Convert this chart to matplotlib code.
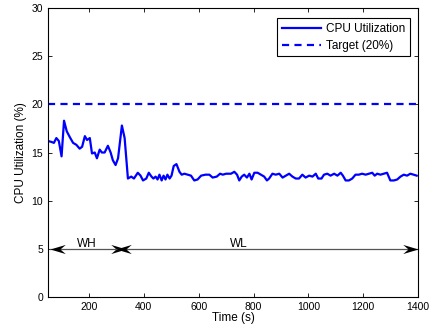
import matplotlib
matplotlib.use("Agg")
import matplotlib.pyplot as plt
from matplotlib.path import Path

plt.rcParams['font.family'] = ['Liberation Sans', 'DejaVu Sans']

# CPU utilization trace (time in s, utilization in %)
time_s = [50, 63, 72, 81, 90, 100, 109, 119, 130, 142, 154, 166, 175, 185, 193,
          203, 211, 221, 229, 239, 247, 257, 269, 279, 287, 297, 306, 320, 330,
          342, 354, 364, 378, 388, 397, 409, 418, 428, 435, 443, 450, 457, 465,
          472, 479, 486, 494, 501, 509, 519, 530, 538, 548, 560, 572, 584, 596,
          609, 625, 639, 651, 666, 678, 688, 700, 718, 730, 740, 748, 757, 766,
          776, 785, 793, 803, 815, 827, 839, 849, 857, 869, 881, 894, 906, 918,
          930, 942, 954, 966, 978, 990, 1003, 1015, 1027, 1036, 1048, 1057, 1069,
          1081, 1094, 1106, 1118, 1126, 1136, 1148, 1160, 1172, 1184, 1196, 1209,
          1221, 1233, 1242, 1251, 1263, 1275, 1287, 1299, 1312, 1324, 1336, 1348,
          1360, 1372, 1384, 1395]
cpu = [16.2, 16.1, 16.0, 16.5, 16.2, 14.6, 18.3, 17.2, 16.6, 16.0, 15.8, 15.4,
       15.6, 16.7, 16.3, 16.5, 14.9, 15.0, 14.4, 15.3, 15.0, 15.0, 15.7, 15.0,
       14.2, 13.7, 14.4, 17.8, 16.5, 12.3, 12.5, 12.3, 12.9, 12.6, 12.1, 12.3,
       12.9, 12.5, 12.3, 12.5, 12.2, 12.7, 12.1, 12.6, 12.2, 12.7, 12.3, 12.6,
       13.6, 13.8, 13.0, 12.7, 12.8, 12.7, 12.6, 12.1, 12.2, 12.6, 12.7, 12.7,
       12.4, 12.5, 12.8, 12.7, 12.8, 12.8, 13.0, 12.7, 12.1, 12.5, 12.7, 12.4,
       12.8, 12.2, 12.9, 12.9, 12.7, 12.5, 12.1, 12.3, 12.8, 12.7, 12.8, 12.4,
       12.6, 12.8, 12.5, 12.3, 12.3, 12.7, 12.4, 12.6, 12.5, 12.8, 12.3, 12.3,
       12.7, 12.8, 12.6, 12.8, 12.6, 12.9, 12.6, 12.1, 12.1, 12.3, 12.7, 12.7,
       12.8, 12.7, 12.8, 12.9, 12.6, 12.8, 12.7, 12.8, 12.9, 12.1, 12.1, 12.2,
       12.5, 12.7, 12.6, 12.8, 12.7, 12.6]
target = 20

# workload phases: label, start, end, label x position
phase_names = ["WH", "WL"]
phase_start = [58, 298]
phase_end = [335, 1400]
phase_label_x = [193, 748]
phase_y = 5

# matlab-like concave arrowheads, tip at origin
head_right = Path([(0, 0), (-1, 0.3), (-0.65, 0), (-1, -0.3), (0, 0)],
                  [Path.MOVETO, Path.LINETO, Path.LINETO, Path.LINETO, Path.CLOSEPOLY])
head_left = Path([(0, 0), (1, 0.3), (0.65, 0), (1, -0.3), (0, 0)],
                 [Path.MOVETO, Path.LINETO, Path.LINETO, Path.LINETO, Path.CLOSEPOLY])

fig = plt.figure(figsize=(4.35, 3.33), dpi=100)
ax = fig.add_axes([0.110, 0.108, 0.851, 0.868])

ax.plot(time_s, cpu, color='#0000ff', lw=1.6, label='CPU Utilization')
ax.axhline(target, color='#0000ff', lw=1.6, ls=(0, (3.2, 2.4)), label='Target (20%)')

for name, x0, x1, xl in zip(phase_names, phase_start, phase_end, phase_label_x):
    ax.plot([x0, x1], [phase_y, phase_y], color='#555555', lw=0.9, clip_on=False)
    ax.plot([x0], [phase_y], marker=head_left, ms=22, color='black', mew=0, clip_on=False)
    ax.plot([x1], [phase_y], marker=head_right, ms=22, color='black', mew=0, clip_on=False)
    ax.text(xl, phase_y + 0.55, name, ha='center', va='center', fontsize=8.5)

ax.set_xlim(50, 1400)
ax.set_ylim(0, 30)
ax.set_xticks(range(200, 1401, 200))
ax.set_yticks(range(0, 31, 5))
ax.tick_params(direction='in', top=True, right=True, labelsize=7.5, length=3, width=0.6)
for s in ax.spines.values():
    s.set_linewidth(0.8)

ax.set_xlabel('Time (s)', fontsize=8.5, labelpad=0)
ax.set_ylabel('CPU Utilization (%)', fontsize=8.5, labelpad=3)

leg = ax.legend(loc='upper right', fontsize=8.5, fancybox=False, framealpha=1,
                edgecolor='black', borderpad=0.4, handlelength=3.3,
                handletextpad=0.4, labelspacing=0.4, bbox_to_anchor=(0.993, 0.985))
leg.get_frame().set_linewidth(0.8)

fig.savefig('out.png', dpi=100)
